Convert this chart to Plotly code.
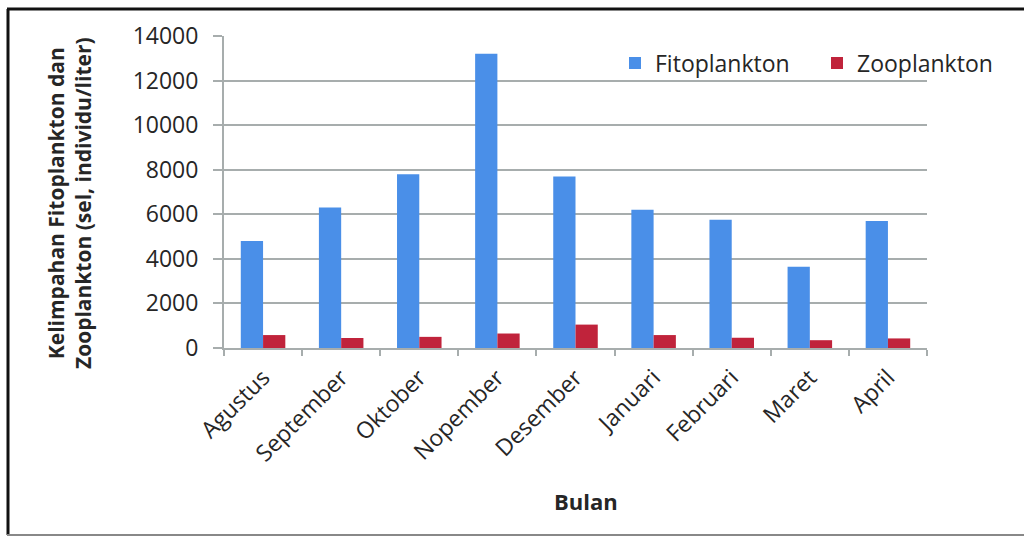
import plotly.graph_objects as go

months = ["Agustus", "September", "Oktober", "Nopember", "Desember",
          "Januari", "Februari", "Maret", "April"]
fitoplankton = [4800, 6300, 7800, 13200, 7700, 6200, 5750, 3650, 5700]
zooplankton = [580, 450, 500, 650, 1050, 580, 460, 350, 430]
y_ticks = [0, 2000, 4000, 6000, 8000, 10000, 12000, 14000]

FONT = "Open Sans"
TXT = "#262626"
GRID = "#a7adad"

W, H = 1024, 537
L, R, T, B = 224, 97, 36, 189
pw, ph = W - L - R, H - T - B

def px(x):
    return (x - L) / pw

def py(y):
    return (H - B - y) / ph

fig = go.Figure()
fig.add_trace(go.Bar(name="Fitoplankton", x=months, y=fitoplankton,
                     marker=dict(color="#4a8fe8", line=dict(width=0))))
fig.add_trace(go.Bar(name="Zooplankton", x=months, y=zooplankton,
                     marker=dict(color="#c0233b", line=dict(width=0))))

fig.update_layout(
    width=W, height=H,
    margin=dict(l=L, r=R, t=T, b=B, pad=0, autoexpand=False),
    paper_bgcolor="white", plot_bgcolor="white",
    barmode="group", bargap=0.43, bargroupgap=0,
    font=dict(family=FONT, color=TXT, size=22),
    legend=dict(orientation="h", x=px(615), y=py(63), xanchor="left", yanchor="middle",
                font=dict(family=FONT, size=23, color=TXT), bgcolor="rgba(0,0,0,0)",
                entrywidth=157, itemclick=False),
    xaxis=dict(type="category", showline=True, linecolor=GRID, linewidth=2,
               ticks="outside", tickson="boundaries", ticklen=6, tickcolor=GRID,
               tickwidth=1.5, tickangle=-45, showgrid=False, ticklabelstandoff=5,
               tickfont=dict(family=FONT, size=23, color=TXT)),
    yaxis=dict(range=[0, 14000], tickvals=y_ticks, tickformat="d", showline=True,
               linecolor=GRID, linewidth=2, ticks="outside", ticklen=9, tickcolor=GRID,
               tickwidth=2, showgrid=True, gridcolor=GRID, gridwidth=2, zeroline=False,
               ticklabelstandoff=10,
               tickfont=dict(family=FONT, size=23, color=TXT)),
    showlegend=True,
)

fig.add_annotation(text="Kelimpahan Fitoplankton dan<br>Zooplankton (sel, individu/liter)",
                   xref="paper", yref="paper", x=px(69), y=py(203), showarrow=False,
                   textangle=-90, xanchor="center", yanchor="middle",
                   font=dict(family=FONT, size=21, color=TXT, weight="bold"))
fig.add_annotation(text="Bulan", xref="paper", yref="paper", x=px(586), y=py(501),
                   showarrow=False, xanchor="center", yanchor="middle",
                   font=dict(family=FONT, size=22, color=TXT, weight="bold"))

# figure frame
fig.add_shape(type="line", xref="paper", yref="paper", x0=px(8), x1=px(8), y0=py(9), y1=py(535),
              line=dict(color="#111111", width=3))
fig.add_shape(type="line", xref="paper", yref="paper", x0=px(7), x1=px(1030), y0=py(9), y1=py(9),
              line=dict(color="#111111", width=3))
fig.add_shape(type="line", xref="paper", yref="paper", x0=px(7), x1=px(1030), y0=py(535), y1=py(535),
              line=dict(color="#888888", width=2))

fig.write_html("out.html")
